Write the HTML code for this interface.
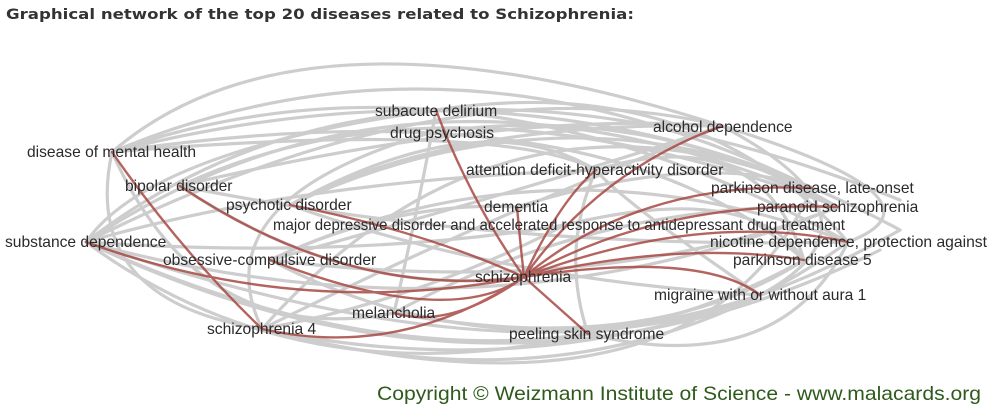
<!DOCTYPE html>
<html><head><meta charset="utf-8"><style>
html,body{margin:0;padding:0;background:#fff;width:990px;height:406px;overflow:hidden}
svg{display:block}
.l{font-family:"Liberation Sans",Arial,sans-serif;font-size:15.6px;fill:#2a2a2a}
</style></head><body>
<svg width="990" height="406" viewBox="0 0 990 406" xmlns="http://www.w3.org/2000/svg">
<text x="6" y="19" font-family="DejaVu Sans,Verdana,sans-serif" font-weight="bold" font-size="14.5" fill="#333" textLength="628" lengthAdjust="spacingAndGlyphs">Graphical network of the top 20 diseases related to Schizophrenia:</text>
<g fill="none" stroke="#cbcbcb" stroke-width="3.2" stroke-linecap="round" opacity="0.95">
<path d="M112 152 Q450 10 812 188"/>
<path d="M112 152 Q460 30 848 242"/>
<path d="M86 242 Q420 20 838 207"/>
<path d="M86 242 Q450 60 722 126"/>
<path d="M86 242 Q300 400 588 334"/>
<path d="M86 242 Q500 430 804 260"/>
<path d="M86 242 Q520 390 760 295"/>
<path d="M112 152 Q300 -10 722 126"/>
<path d="M112 152 Q200 350 394 313"/>
<path d="M262 329 Q600 420 848 242"/>
<path d="M262 329 Q500 60 812 188"/>
<path d="M180 186 Q450 60 838 207"/>
<path d="M180 186 Q500 110 722 126"/>
<path d="M290 205 Q560 80 812 188"/>
<path d="M290 205 Q450 120 722 126"/>
<path d="M270 260 Q550 130 848 242"/>
<path d="M270 260 Q500 380 760 295"/>
<path d="M436 110 Q700 70 848 242"/>
<path d="M430 133 Q650 100 838 207"/>
<path d="M596 170 Q760 120 804 260"/>
<path d="M722 126 Q900 220 760 295"/>
<path d="M722 126 Q960 200 848 242"/>
<path d="M517 207 Q700 150 812 188"/>
<path d="M565 225 Q750 180 804 260"/>
<path d="M394 313 Q650 360 804 260"/>
<path d="M588 334 Q780 380 848 242"/>
<path d="M112 152 Q80 300 262 329"/>
<path d="M86 242 Q150 150 436 110"/>
<path d="M86 242 Q300 180 596 170"/>
<path d="M86 242 Q350 260 565 225"/>
<path d="M180 186 Q350 300 524 277"/>
<path d="M270 260 Q400 200 517 207"/>
<path d="M112 152 Q500 120 596 170"/>
<path d="M262 329 Q420 300 565 225"/>
<path d="M394 313 Q420 200 436 110"/>
<path d="M588 334 Q560 250 596 170"/>
<path d="M760 295 Q620 200 596 170"/>
<path d="M86 242 Q480 350 838 207"/>
<path d="M262 329 Q700 440 812 188"/>
<path d="M112 152 Q600 80 804 260"/>
<path d="M86 242 Q400 0 900 200"/>
<path d="M112 152 Q550 40 900 230"/>
<path d="M262 329 Q600 400 900 230"/>
<path d="M86 242 Q500 440 880 250"/>
<path d="M430 133 Q200 200 262 329"/>
<path d="M290 205 Q500 280 760 295"/>
<path d="M270 260 Q600 300 838 207"/>
<path d="M394 313 Q600 200 838 207"/>
<path d="M180 186 Q500 250 848 242"/>
<path d="M290 205 Q480 100 596 170"/>
<path d="M722 126 Q560 180 270 260"/>
<path d="M722 126 Q480 220 262 329"/>
</g>
<g fill="none" stroke="#a84a44" stroke-width="2.4" stroke-linecap="round" opacity="0.85">
<path d="M524 277 Q600 170 722 126"/>
<path d="M524 277 Q640 180 812 188"/>
<path d="M524 277 Q660 200 838 207"/>
<path d="M524 277 Q700 210 848 242"/>
<path d="M524 277 Q680 240 804 260"/>
<path d="M524 277 Q700 250 760 295"/>
<path d="M524 277 Q470 200 436 110"/>
<path d="M524 277 Q560 200 596 170"/>
<path d="M524 277 Q520 240 517 207"/>
<path d="M524 277 Q450 330 394 313"/>
<path d="M524 277 Q400 360 262 329"/>
<path d="M524 277 Q300 320 86 242"/>
<path d="M524 277 Q350 300 180 186"/>
<path d="M524 277 Q450 330 270 260"/>
<path d="M524 277 Q550 300 588 334"/>
<path d="M524 277 Q420 230 290 205"/>
<path d="M112 152 Q180 250 262 329"/>
</g>
<g class="l">
<text x="375" y="116">subacute delirium</text>
<text x="390" y="138">drug psychosis</text>
<text x="653" y="132">alcohol dependence</text>
<text x="27" y="157">disease of mental health</text>
<text x="466" y="175">attention deficit-hyperactivity disorder</text>
<text x="125" y="191">bipolar disorder</text>
<text x="711" y="193">parkinson disease, late-onset</text>
<text x="226" y="210">psychotic disorder</text>
<text x="484" y="212">dementia</text>
<text x="757" y="212">paranoid schizophrenia</text>
<text x="273" y="230" textLength="572" lengthAdjust="spacingAndGlyphs">major depressive disorder and accelerated response to antidepressant drug treatment</text>
<text x="710" y="247" textLength="277" lengthAdjust="spacingAndGlyphs">nicotine dependence, protection against</text>
<text x="5" y="247">substance dependence</text>
<text x="163" y="265">obsessive-compulsive disorder</text>
<text x="733" y="265">parkinson disease 5</text>
<text x="475" y="282">schizophrenia</text>
<text x="654" y="300">migraine with or without aura 1</text>
<text x="352" y="318">melancholia</text>
<text x="207" y="334">schizophrenia 4</text>
<text x="509" y="339">peeling skin syndrome</text>
</g>
<text x="377" y="400" font-family="Liberation Sans,Arial,sans-serif" font-size="19.5" fill="#2e5a1c" textLength="604" lengthAdjust="spacingAndGlyphs">Copyright © Weizmann Institute of Science - www.malacards.org</text>
</svg>
</body></html>
